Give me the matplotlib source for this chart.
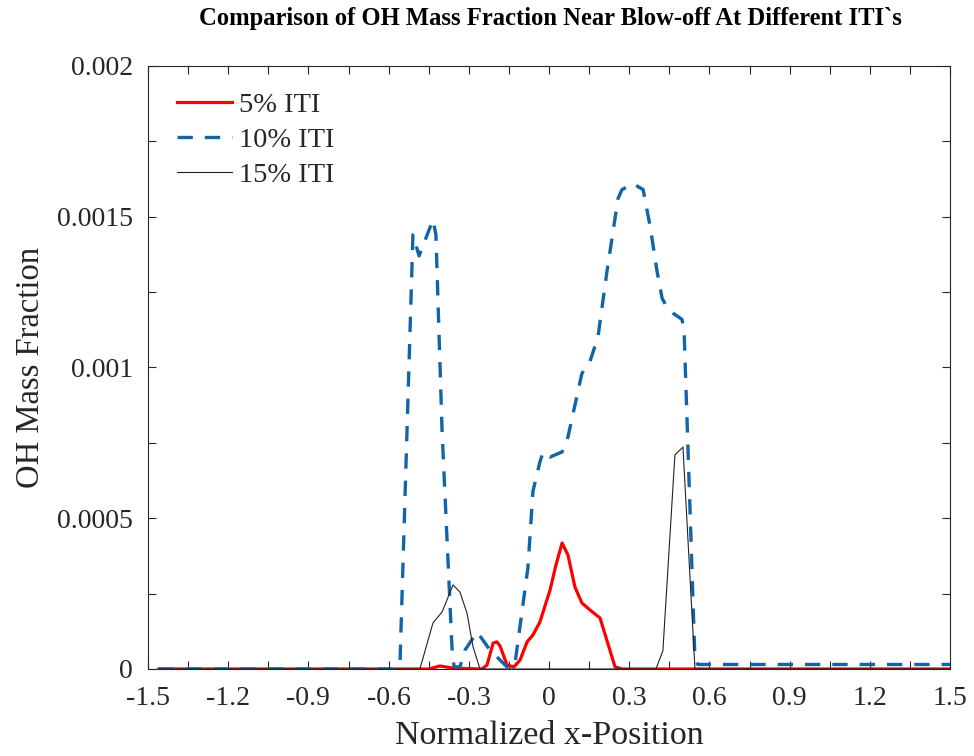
import matplotlib
matplotlib.use("Agg")
import matplotlib.pyplot as plt
from matplotlib.ticker import FixedLocator, FuncFormatter

plt.rcParams['font.family'] = ['Liberation Serif', 'DejaVu Serif']

# 5% ITI
x_5 = [-1.459, -0.45, -0.408, -0.359, -0.251, -0.232, -0.209, -0.195, -0.183,
       -0.157, -0.131, -0.108, -0.082, -0.060, -0.034, 0.004, 0.026, 0.049,
       0.071, 0.097, 0.123, 0.153, 0.191, 0.247, 0.273, 1.5]
y_5 = [0.0, 0.0, 0.00001, 0.000003, 0.0, 0.000013, 0.000086, 0.00009, 0.000076,
       0.000013, 0.000007, 0.00003, 0.00009, 0.000113, 0.000156, 0.000262,
       0.000345, 0.000418, 0.000378, 0.000272, 0.000219, 0.000196, 0.000169,
       0.000007, 0.0, 0.0]

# 10% ITI
x_10 = [-1.459, -0.58, -0.572, -0.565, -0.557, -0.509, -0.486, -0.434, -0.423,
        -0.400, -0.363, -0.355, -0.333, -0.314, -0.269, -0.221, -0.157, -0.135,
        -0.127, -0.079, -0.060, -0.034, -0.022, 0.004, 0.049, 0.071, 0.123,
        0.153, 0.183, 0.217, 0.236, 0.258, 0.273, 0.314, 0.352, 0.378, 0.404,
        0.423, 0.441, 0.464, 0.497, 0.505, 0.546, 0.557, 1.5]
y_10 = [0.0, 0.0, 0.00001, 0.00002, 0.00003, 0.00144, 0.00137, 0.00149, 0.00144,
        0.00079, 0.000073, 0.000007, 0.000007, 0.000063, 0.000123, 0.000063,
        0.000007, 0.000007, 0.00002, 0.000335, 0.00059, 0.000687, 0.00072,
        0.000703, 0.00072, 0.00077, 0.00098, 0.00102, 0.0011, 0.00132, 0.00143,
        0.00156, 0.00159, 0.00161, 0.00159, 0.00147, 0.00132, 0.00123, 0.0012,
        0.00118, 0.00116, 0.00113, 0.00003, 0.000015, 0.000015]

# 15% ITI
x_15 = [-1.459, -0.483, -0.434, -0.400, -0.359, -0.333, -0.307, -0.284, -0.258,
        0.400, 0.426, 0.471, 0.501, 0.546, 1.5]
y_15 = [0.0, 0.0, 0.000153, 0.000189, 0.000279, 0.000255, 0.000186, 0.000073,
        0.0, 0.0, 0.00006, 0.00071, 0.000736, 0.0, 0.0]

series_labels = ['5% ITI', '10% ITI', '15% ITI']
x_ticks = [round(-1.5 + 0.15 * i, 2) for i in range(21)]
x_tick_labels = ['-1.5', '-1.2', '-0.9', '-0.6', '-0.3', '0', '0.3', '0.6', '0.9', '1.2', '1.5']
y_ticks = [0.00025 * i for i in range(9)]
y_tick_labels = ['0', '0.0005', '0.001', '0.0015', '0.002']

fig = plt.figure(figsize=(9.74, 7.56), dpi=100)
ax = fig.add_axes([148 / 974, 1 - 669 / 756, 802 / 974, 603 / 756])

blue = '#1064A8'
ax.plot(x_5, y_5, color='#FF0000', lw=2.3, label=series_labels[0], zorder=2)
ax.plot(x_10, y_10, color=blue, lw=2.4, dashes=(4.6, 3.6), label=series_labels[1], zorder=3)
ax.plot(x_15, y_15, color='#222222', lw=0.8, label=series_labels[2], zorder=4)

ax.set_xlim(-1.5, 1.5)
ax.set_ylim(0, 0.002)

ax.xaxis.set_major_locator(FixedLocator(x_ticks))
ax.yaxis.set_major_locator(FixedLocator(y_ticks))
ax.xaxis.set_major_formatter(FuncFormatter(
    lambda v, i: x_tick_labels[i // 2] if i % 2 == 0 else ''))
ax.yaxis.set_major_formatter(FuncFormatter(
    lambda v, i: y_tick_labels[i // 2] if i % 2 == 0 else ''))

ax.tick_params(direction='in', length=6, width=0.8, top=True, right=True,
               labelsize=20, colors='#262626', labelcolor='#262626')
ax.tick_params(axis='x', pad=12)
ax.tick_params(axis='y', pad=11)
for s in ax.spines.values():
    s.set_linewidth(0.8)
    s.set_color('#262626')

ax.set_xlabel('Normalized x-Position', fontsize=24.5, color='#262626')
ax.set_ylabel('OH Mass Fraction', fontsize=23.5, color='#262626')
ax.xaxis.set_label_coords(0.5, -0.085)
ax.yaxis.set_label_coords(-0.127, 0.5)

fig.text(0.565, 0.975, 'Comparison of OH Mass Fraction Near Blow-off At Different ITI`s',
         ha='center', va='center', fontsize=17.7, fontweight='bold', color='black')

leg = ax.legend(loc='upper left', bbox_to_anchor=(0.004, 1.0), frameon=False,
                fontsize=20.5, handlelength=1.95, handletextpad=0.22, labelspacing=0.33,
                borderaxespad=0.5)
for t in leg.get_texts():
    t.set_color('#262626')

fig.savefig('out.png', dpi=100, facecolor='white')
